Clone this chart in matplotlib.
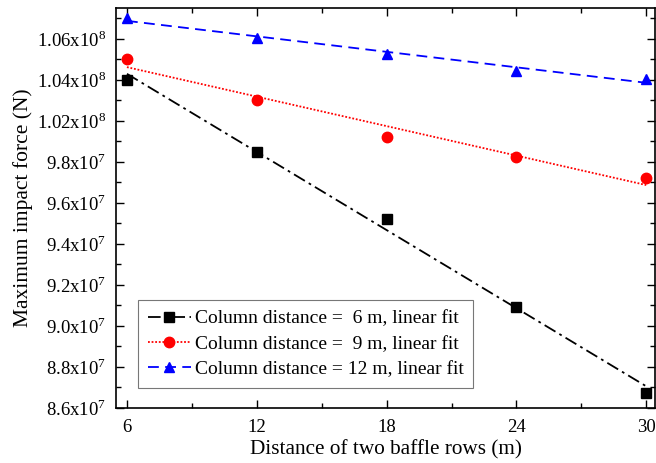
import numpy as np
import matplotlib.pyplot as plt
from matplotlib.lines import Line2D

plt.rcParams['font.family'] = ['Liberation Serif', 'DejaVu Serif']
plt.rcParams['mathtext.fontset'] = 'custom'
plt.rcParams['mathtext.rm'] = 'Liberation Serif'

# Distance of two baffle rows (m)
x = np.array([6, 12, 18, 24, 30])

# Maximum impact force (N), read on the evenly spaced tick grid
col6 = np.array([1.0400e8, 1.0049e8, 9.722e7, 9.293e7, 8.873e7])
col9 = np.array([1.0502e8, 1.0302e8, 1.0122e8, 1.0024e8, 9.922e7])
col12 = np.array([1.0702e8, 1.0605e8, 1.0527e8, 1.0444e8, 1.0405e8])

# tick positions and the labels printed on them in the original figure
ytick_pos = np.arange(8.8e7, 1.061e8, 2e6)
ytick_labels = ['8.6x10$^{7}$', '8.8x10$^{7}$', '9.0x10$^{7}$', '9.2x10$^{7}$',
                '9.4x10$^{7}$', '9.6x10$^{7}$', '9.8x10$^{7}$', '1.02x10$^{8}$',
                '1.04x10$^{8}$', '1.06x10$^{8}$']
xticks = [6, 12, 18, 24, 30]

series = [
    (col6, 'Column distance =  6 m, linear fit', 'black', 's', (0, (7, 2.5, 1.5, 2.5))),
    (col9, 'Column distance =  9 m, linear fit', 'red', 'o', (0, (1, 1))),
    (col12, 'Column distance = 12 m, linear fit', 'blue', '^', (0, (6, 3.5))),
]

fig = plt.figure(figsize=(6.56, 4.63), dpi=100)
ax = fig.add_axes([0.177, 0.119, 0.822, 0.864])

handles = []
for y, label, color, marker, ls in series:
    k, b = np.polyfit(x, y, 1)
    ax.plot(x, k * x + b, color=color, linestyle=ls, lw=1.3)
    ax.plot(x, y, linestyle='none', marker=marker, color=color, markersize=7.5)
    handles.append(Line2D([], [], color=color, linestyle=ls, lw=1.3,
                          marker=marker, markersize=7.5, label=label))

ax.set_xlim(5.5, 30.42)
ax.set_ylim(8.8e7, 1.0751e8)
ax.set_xticks(xticks)
ax.set_xticks([9, 15, 21, 27], minor=True)
ax.set_yticks(ytick_pos)
ax.set_yticklabels(ytick_labels)
ax.set_yticks(np.arange(8.9e7, 1.075e8, 2e6), minor=True)

ax.tick_params(which='both', direction='in', top=True, right=True, labelsize=13.5)
ax.tick_params(which='major', length=6, width=1)
ax.tick_params(which='minor', length=3.5, width=1)
ax.tick_params(axis='x', pad=8)
ax.tick_params(axis='y', pad=7)
for s in ax.spines.values():
    s.set_linewidth(1.2)

ax.set_xlabel('Distance of two baffle rows (m)', fontsize=15.3, labelpad=3)
ax.set_ylabel('Maximum impact force (N)', fontsize=15.5, labelpad=3)

leg = ax.legend(handles=handles, loc='lower left', bbox_to_anchor=(0.041, 0.05),
                borderaxespad=0, fontsize=14, handlelength=2.2, handletextpad=0.2,
                borderpad=0.5, labelspacing=0.4, fancybox=False, edgecolor='#555555')
leg.get_frame().set_linewidth(0.8)

fig.savefig('out.png', dpi=100)
